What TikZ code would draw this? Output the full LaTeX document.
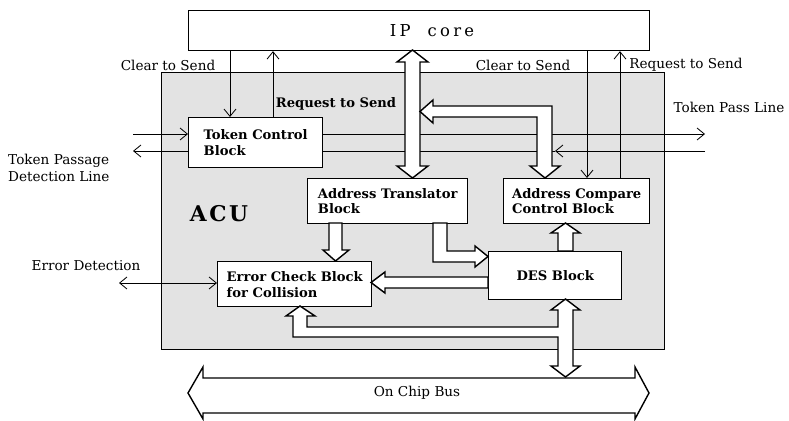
\documentclass[tikz,border=0pt]{standalone}
\usepackage{fontspec}
\setmainfont{DejaVu Serif}
\usetikzlibrary{arrows.meta}
\def\u{0.3mm}
\tikzset{
  block/.style={draw, line width=1.2pt, fill=white, anchor=north west, align=left,
    inner sep=0pt, font=\bfseries\fontsize{11.2}{13.5}\selectfont},
  wire/.style={line width=0.7pt},
  tip/.style={-{Straight Barb[length=2.2mm,width=3.6mm]}},
  tips/.style={{Straight Barb[length=2.2mm,width=3.6mm]}-{Straight Barb[length=2.2mm,width=3.6mm]}},
  wide/.style={draw, line width=1.2pt, fill=white, line join=miter},
  lab/.style={font=\fontsize{11.6}{14.5}\selectfont},
  boldlab/.style={font=\bfseries\fontsize{11.2}{13.5}\selectfont},
}
\begin{document}
\begin{tikzpicture}[x=0.3mm, y=-0.3mm]
  \useasboundingbox (0,0) rectangle (789,421);
  % frame of the ACU and the IP core
  \node[draw, line width=1pt, fill=black!11, anchor=north west,
        minimum width=503*\u, minimum height=277*\u] (acu) at (161,72) {};
  \node[draw, line width=1pt, fill=white, anchor=north west,
        minimum width=461*\u, minimum height=40*\u] (ip) at (188,10) {};
  \node[font=\fontsize{14}{16}\selectfont\addfontfeature{LetterSpace=20}] (iptext) at (432,31) {IP\ \ core};
  \node[font=\bfseries\fontsize{18.5}{21}\selectfont\addfontfeature{LetterSpace=12}] (acutext) at (219,214) {ACU};

  % the blocks
  \node[block, minimum width=134*\u, minimum height=50*\u] (tcb) at (188,117) {Token Control\\Block};
  \node[block, minimum width=160*\u, minimum height=45*\u] (at) at (307,178) {Address Translator\\Block};
  \node[block, minimum width=146*\u, minimum height=45*\u] (acc) at (503,178) {Address Compare\\Control Block};
  \node[block, minimum width=154*\u, minimum height=45*\u] (ecb) at (217,261) {Error Check Block\\for Collision};
  \node[block, minimum width=133*\u, minimum height=48*\u] (des) at (488,251) {DES Block};

  % ends of the single lines
  \coordinate (ctsl) at (230,0);
  \coordinate (rtsl) at (273,0);
  \coordinate (ctsr) at (587,0);
  \coordinate (rtsr) at (620,0);
  \coordinate (tpdin) at (133,134);
  \coordinate (tpdout) at (133,151);
  \coordinate (tplout) at (705,134);
  \coordinate (tplin) at (705,151);
  \coordinate (tplmid) at (555,151);
  \coordinate (errd) at (119,283);

  % single lines
  \draw[wire, tip] (ctsl |- ip.south) -- (ctsl |- tcb.north);
  \draw[wire, tip] (rtsl |- tcb.north) -- (rtsl |- ip.south);
  \draw[wire, tip] (ctsr |- ip.south) -- (ctsr |- acc.north);
  \draw[wire, tip] (rtsr |- acc.north) -- (rtsr |- ip.south);
  \draw[wire, tip] (tpdin) -- (tpdin -| tcb.west);
  \draw[wire, tip] (tpdout -| tcb.west) -- (tpdout);
  \draw[wire, tip] (tplout -| tcb.east) -- (tplout);
  \draw[wire, tip] (tplin) -- (tplmid);
  \draw[wire] (tplmid) -- (tplmid -| tcb.east);
  \draw[wire, tips] (errd) -- (errd -| ecb.west);

  % labels of the lines
  \node[lab] (ctsltext) at (168,65) {Clear to Send};
  \node[boldlab] (rtsltext) at (336,104) {Request to Send};
  \node[lab] (ctsrtext) at (523,65) {Clear to Send};
  \node[lab] (rtsrtext) at (686,65) {Request to Send};
  \node[lab] (tpltext) at (729,107) {Token Pass Line};
  \node[lab, align=left, anchor=west, inner xsep=0pt] (tpdtext) at (8,168) {Token Passage\\Detection Line};
  \node[lab] (errtext) at (86,266) {Error Detection};

  % wide arrows
  \draw[wide] (412.5,50) -- (428,62) -- (420,62) -- (420,166) -- (428,166) -- (412.5,178)
    -- (397,166) -- (405,166) -- (405,62) -- (397,62) -- cycle;
  \draw[wide] (420,111.5) -- (433,100) -- (433,106) -- (552,106) -- (552,166) -- (560,166)
    -- (545,178) -- (530,166) -- (537,166) -- (537,117) -- (433,117) -- (433,123) -- cycle;
  \draw[wide] (329,223) -- (329,250) -- (323,250) -- (335.5,261) -- (349,250) -- (342,250)
    -- (342,223) -- cycle;
  \draw[wide] (433,223) -- (433,262) -- (475,262) -- (475,267) -- (488,256.5) -- (475,246)
    -- (475,251) -- (447,251) -- (447,223) -- cycle;
  \draw[wide] (558,251) -- (558,233) -- (551,233) -- (565.5,223) -- (580,233) -- (573,233)
    -- (573,251) -- cycle;
  \draw[wide] (488,277) -- (385,277) -- (385,272) -- (371,282.5) -- (385,293) -- (385,288)
    -- (488,288) -- cycle;
  % the bus and its branch
  \draw[wide] (188,393) -- (203,367) -- (203,378) -- (635,378) -- (635,367) -- (649,393)
    -- (635,419) -- (635,413) -- (203,413) -- (203,419) -- cycle;
  \node[lab] (bustext) at (417,393) {On Chip Bus};
  \draw[wide] (565.5,299) -- (580,310) -- (573,310) -- (573,366) -- (580,366) -- (565.5,377)
    -- (551,366) -- (558,366) -- (558,337) -- (293,337) -- (293,316) -- (286,316) -- (300,306)
    -- (315,316) -- (307,316) -- (307,327) -- (558,327) -- (558,310) -- (551,310) -- cycle;
\end{tikzpicture}
\end{document}
